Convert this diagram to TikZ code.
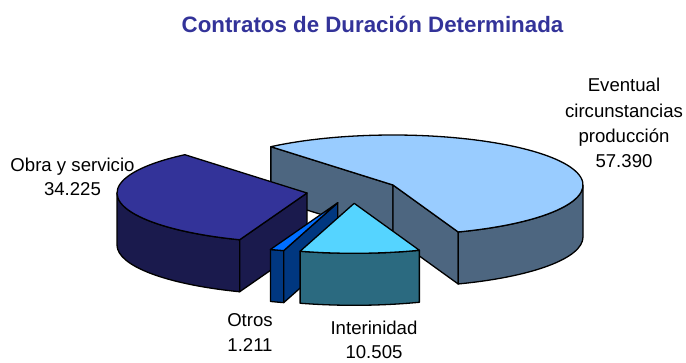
\documentclass[tikz,border=0pt]{standalone}
\usepackage{fontspec}
\setmainfont{Liberation Sans}
\definecolor{titulo}{RGB}{51,51,153}
\definecolor{evTop}{RGB}{153,204,255}
\definecolor{evLado}{RGB}{77,102,128}
\definecolor{obTop}{RGB}{51,51,153}
\definecolor{obLado}{RGB}{26,26,77}
\definecolor{otTop}{RGB}{0,110,255}
\definecolor{otLado}{RGB}{0,55,128}
\definecolor{inTop}{RGB}{85,212,255}
\definecolor{inLado}{RGB}{43,106,128}
\begin{document}
\begin{tikzpicture}[x=1pt,y=1pt]
\tikzstyle{cara} = [draw=black, line width=1.3, line join=round,
                           x radius=190pt, y radius=50pt]
\tikzstyle{rotulo} = [inner sep=0, align=center,
                           font=\fontsize{18.6}{25.3}\selectfont]
\tikzstyle{titulo} = [inner sep=0, text=titulo,
                           font=\fontsize{22.3}{26}\selectfont\bfseries]
\useasboundingbox (0,0) rectangle (686,-362);
% Eventual circunstancias produccion
\begin{scope}[shift={(393,-185)}]
\draw [cara, fill=evLado] (0,0) -- (130:190pt and 50pt) -- ++(0,-52) -- (0,-52) -- cycle;
\draw [cara, fill=evLado] (0,0) -- (-69.94:190pt and 50pt) -- ++(0,-52) -- (0,-52) -- cycle;
\draw [cara, fill=evLado] (-69.94:190pt and 50pt) arc [start angle=-69.94, end angle=0]
	  -- ++(0,-52) arc [start angle=0, end angle=-69.94] -- cycle;
\draw [cara, fill=evTop] (0,0) -- (-69.94:190pt and 50pt) arc [start angle=-69.94, end angle=130] -- cycle;
\end{scope}
% Obra y servicio
\begin{scope}[shift={(307,-193)}]
\draw [cara, fill=obLado] (180:190pt and 50pt) arc [start angle=180, end angle=249.24]
	  -- ++(0,-52) arc [start angle=249.24, end angle=180] -- cycle;
\draw [cara, fill=obLado] (0,0) -- (249.24:190pt and 50pt) -- ++(0,-52) -- (0,-52) -- cycle;
\draw [cara, fill=obTop] (0,0) -- (130:190pt and 50pt) arc [start angle=130, end angle=249.24] -- cycle;
\end{scope}
% Otros
\begin{scope}[shift={(337.8,-202.7)}]
\draw [cara, fill=otLado] (249.24:190pt and 50pt) arc [start angle=249.24, end angle=253.46]
	  -- ++(0,-52) arc [start angle=253.46, end angle=249.24] -- cycle;
\draw [cara, fill=otLado] (0,0) -- (253.46:190pt and 50pt) -- ++(0,-52) -- (0,-52) -- cycle;
\draw [cara, fill=otTop] (0,0) -- (249.24:190pt and 50pt) arc [start angle=249.24, end angle=253.46] -- cycle;
\end{scope}
% Interinidad
\begin{scope}[shift={(354.2,-203.3)}]
\draw [cara, fill=inLado] (253.46:190pt and 50pt) arc [start angle=253.46, end angle=290.06]
	  -- ++(0,-52) arc [start angle=290.06, end angle=253.46] -- cycle;
\draw [cara, fill=inTop] (0,0) -- (253.46:190pt and 50pt) arc [start angle=253.46, end angle=290.06] -- cycle;
\end{scope}
\node [titulo, anchor=base] (v1) at (372.5,-32) {Contratos de Duración Determinada};
\node [rotulo] (v2) at (624,-123.2) {Eventual\\circunstancias\\producción\\57.390};
\node [rotulo, font=\fontsize{18.6}{23.3}\selectfont] (v3) at (72.5,-176.7) {Obra y servicio\\34.225};
\node [rotulo] (v4) at (250,-332.8) {Otros\\1.211};
\node [rotulo, font=\fontsize{18.6}{24}\selectfont] (v5) at (374,-340) {Interinidad\\10.505};
\end{tikzpicture}
\end{document}
